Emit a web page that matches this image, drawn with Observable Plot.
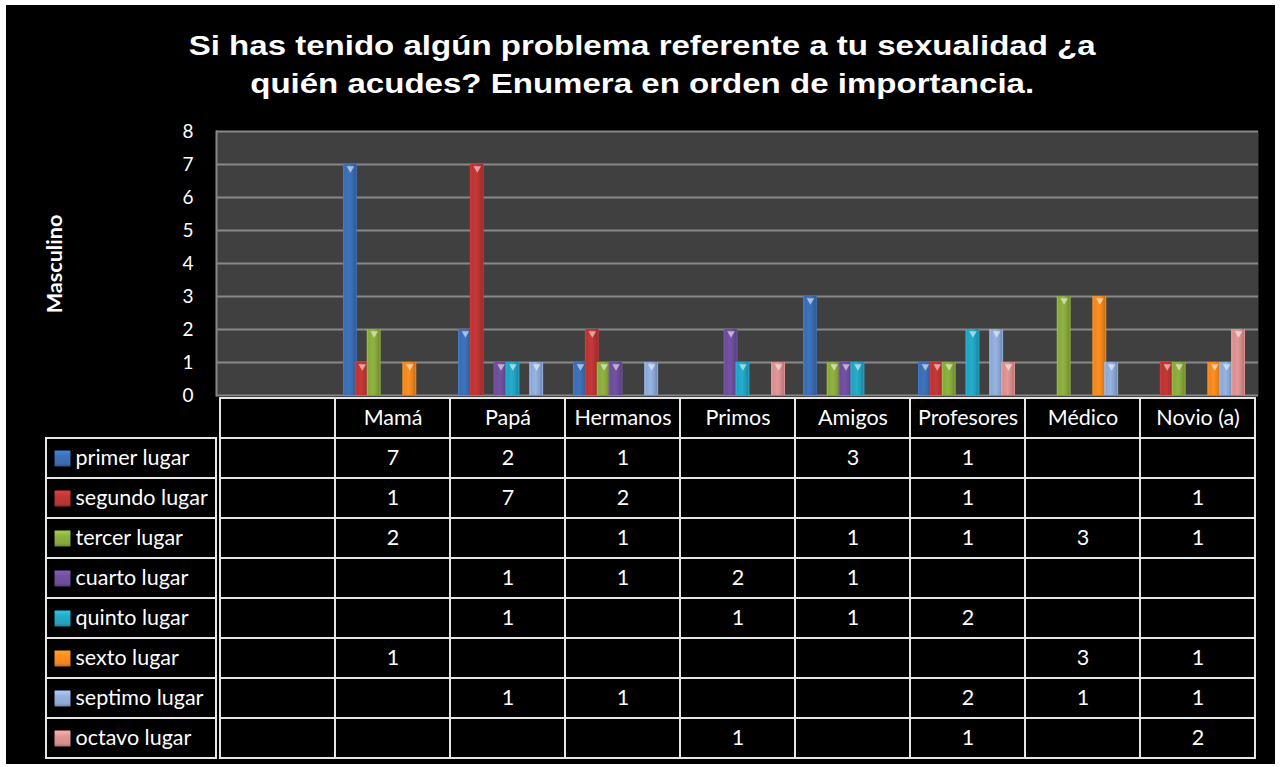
<!DOCTYPE html>
<html>
<head>
<meta charset="utf-8">
<script src="https://cdn.jsdelivr.net/npm/d3@7"></script>
<script src="https://cdn.jsdelivr.net/npm/@observablehq/plot@0.6"></script>
<style>
  html, body { margin: 0; padding: 0; background: #fff; width: 1284px; height: 767px; overflow: hidden; }
  #bg { position: absolute; left: 6px; top: 5px; width: 1269px; height: 759px; background: #000; }
  #title { position: absolute; left: 0; top: 27px; width: 1284px; text-align: center; color: #fff;
           font: bold 28px "Liberation Sans", Arial, sans-serif; line-height: 38px;
           transform: scaleX(1.18); transform-origin: 641px 0; }
  #ylabel { position: absolute; left: 54px; top: 264px; transform: translate(-50%, -50%) rotate(-90deg) scaleX(1.08);
            color: #fff; font: bold 20px Lato, sans-serif; white-space: nowrap; }
  .abs { position: absolute; left: 0; }
</style>
</head>
<body>
<div id="bg"></div>
<svg width="0" height="0" style="position:absolute"><defs id="gdefs"></defs></svg>
<div id="title">Si has tenido algún problema referente a tu sexualidad ¿a<br>quién acudes? Enumera en orden de importancia.</div>
<div id="ylabel">Masculino</div>
<div id="grid" class="abs" style="top:110px"></div>
<div id="chart" class="abs" style="top:110px"></div>
<div id="legend" class="abs" style="top:396px"></div>
<div id="table" class="abs" style="top:396px"></div>
<script>
// ---- data ----
const categories = ["", "Mamá", "Papá", "Hermanos", "Primos", "Amigos", "Profesores", "Médico", "Novio (a)"];
const series = ["primer lugar", "segundo lugar", "tercer lugar", "cuarto lugar", "quinto lugar", "sexto lugar", "septimo lugar", "octavo lugar"];
const seriesColors = ["#3a6cb0", "#b93434", "#87a83c", "#6c4d99", "#22a2bf", "#f0861f", "#8ca8d4", "#d68e8e"];
const yTicks = [0, 1, 2, 3, 4, 5, 6, 7, 8];
const primerLugar  = [null, 7, 2, 1, null, 3, 1, null, null];
const segundoLugar = [null, 1, 7, 2, null, null, 1, null, 1];
const tercerLugar  = [null, 2, null, 1, null, 1, 1, 3, 1];
const cuartoLugar  = [null, null, 1, 1, 2, 1, null, null, null];
const quintoLugar  = [null, null, 1, null, 1, 1, 2, null, null];
const sextoLugar   = [null, 1, null, null, null, null, null, 3, 1];
const septimoLugar = [null, null, 1, 1, null, null, 2, 1, 1];
const octavoLugar  = [null, null, null, null, 1, null, 1, null, 2];
const seriesValues = [primerLugar, segundoLugar, tercerLugar, cuartoLugar, quintoLugar, sextoLugar, septimoLugar, octavoLugar];

// ---- gradients (3D look) ----
const defs = d3.select("#gdefs");
seriesColors.forEach((c, i) => {
  const base = d3.rgb(c);
  const g = defs.append("linearGradient").attr("id", `bar${i}`)
    .attr("x1", 0).attr("x2", 1).attr("y1", 0).attr("y2", 0);
  [[0, base.brighter(0.45)], [0.14, base], [0.45, base.brighter(0.2)], [0.72, base.darker(0.1)], [0.88, base.darker(0.45)], [1, base.brighter(0.25)]]
    .forEach(([o, col]) => g.append("stop").attr("offset", o).attr("stop-color", col.formatHex()));
  const v = defs.append("linearGradient").attr("id", `sw${i}`)
    .attr("x1", 0).attr("x2", 0).attr("y1", 0).attr("y2", 1);
  [[0, base.brighter(0.6)], [0.35, base.brighter(0.15)], [0.8, base], [1, base.darker(0.6)]]
    .forEach(([o, col]) => v.append("stop").attr("offset", o).attr("stop-color", col.formatHex()));
});

// ---- records ----
const records = [];
series.forEach((s, i) => categories.forEach((cat, j) => {
  const v = seriesValues[i][j];
  if (v != null) records.push({cat, series: s, value: v});
}));

const font = "Lato, 'Open Sans', sans-serif";
const baseStyle = {background: "transparent", color: "white", fontFamily: font, overflow: "visible"};
const frameDims = {width: 1284, height: 300, marginLeft: 216, marginRight: 26, marginTop: 21, marginBottom: 15};

// ---- plot area background, grid and y axis ----
const grid = Plot.plot({
  ...frameDims,
  style: baseStyle,
  x: {domain: categories, padding: 0, axis: null},
  y: {domain: [0, 8], axis: null},
  marks: [
    Plot.frame({fill: "#404040", stroke: null}),
    Plot.ruleY(yTicks, {stroke: "#888888", strokeWidth: 2}),
    Plot.frame({anchor: "left", stroke: "#888888", strokeWidth: 2}),
    Plot.axisY(yTicks, {tickSize: 0, tickPadding: 23, fontSize: 19, label: null, fill: "white", tickFormat: d => String(d)})
  ]
});
document.getElementById("grid").appendChild(grid);

// ---- grouped bars ----
const chart = Plot.plot({
  ...frameDims,
  style: baseStyle,
  fx: {domain: categories, padding: 0, axis: null},
  x: {domain: series, padding: 0, round: false, axis: null, insetLeft: 9, insetRight: 11},
  y: {domain: [0, 8], axis: null},
  color: {domain: series, range: series.map((_, i) => `url(#bar${i})`)},
  marks: [
    Plot.barY(records, {fx: "cat", x: "series", y: "value", fill: "series", insetLeft: -1, insetRight: -1}),
    Plot.dot(records, {fx: "cat", x: "series", y: "value", symbol: "triangle", rotate: 180, r: 2.8, fill: "rgba(255,255,255,0.55)", stroke: null, dy: 4})
  ]
});
document.getElementById("chart").appendChild(chart);

// ---- data table ----
const rows = ["__header", ...series];
const cells = rows.flatMap(r => categories.map(cat => ({cat, row: r})));
const labels = [
  ...categories.map(cat => ({cat, row: "__header", text: cat})),
  ...records.map(d => ({cat: d.cat, row: d.series, text: String(d.value)}))
];
const table = Plot.plot({
  width: 1284, height: 364,
  marginLeft: 216, marginRight: 26, marginTop: 0, marginBottom: 0,
  style: baseStyle,
  x: {domain: categories, padding: 0, axis: null},
  y: {domain: rows, padding: 0, axis: null},
  marks: [
    Plot.cell(cells, {x: "cat", y: "row", fill: "black", stroke: "#e6e6e6", strokeWidth: 2}),
    Plot.text(labels, {x: "cat", y: "row", text: "text", fill: "white", fontSize: 21.5})
  ]
});
document.getElementById("table").appendChild(table);

// ---- legend column ----
const legend = Plot.plot({
  width: 216, height: 364,
  marginLeft: 46, marginRight: 0, marginTop: 0, marginBottom: 0,
  style: baseStyle,
  y: {domain: rows, padding: 0, axis: null},
  color: {domain: series, range: series.map((_, i) => `url(#sw${i})`)},
  marks: [
    Plot.cell(series, {y: d => d, fill: "black", stroke: "#e6e6e6", strokeWidth: 2}),
    Plot.dot(series, {y: d => d, frameAnchor: "left", dx: 16, symbol: "square", r: 9, fill: d => d, stroke: null}),
    Plot.text(series, {y: d => d, text: d => d, frameAnchor: "left", dx: 29, textAnchor: "start", fill: "white", fontSize: 21.5})
  ]
});
document.getElementById("legend").appendChild(legend);
</script>
</body>
</html>
